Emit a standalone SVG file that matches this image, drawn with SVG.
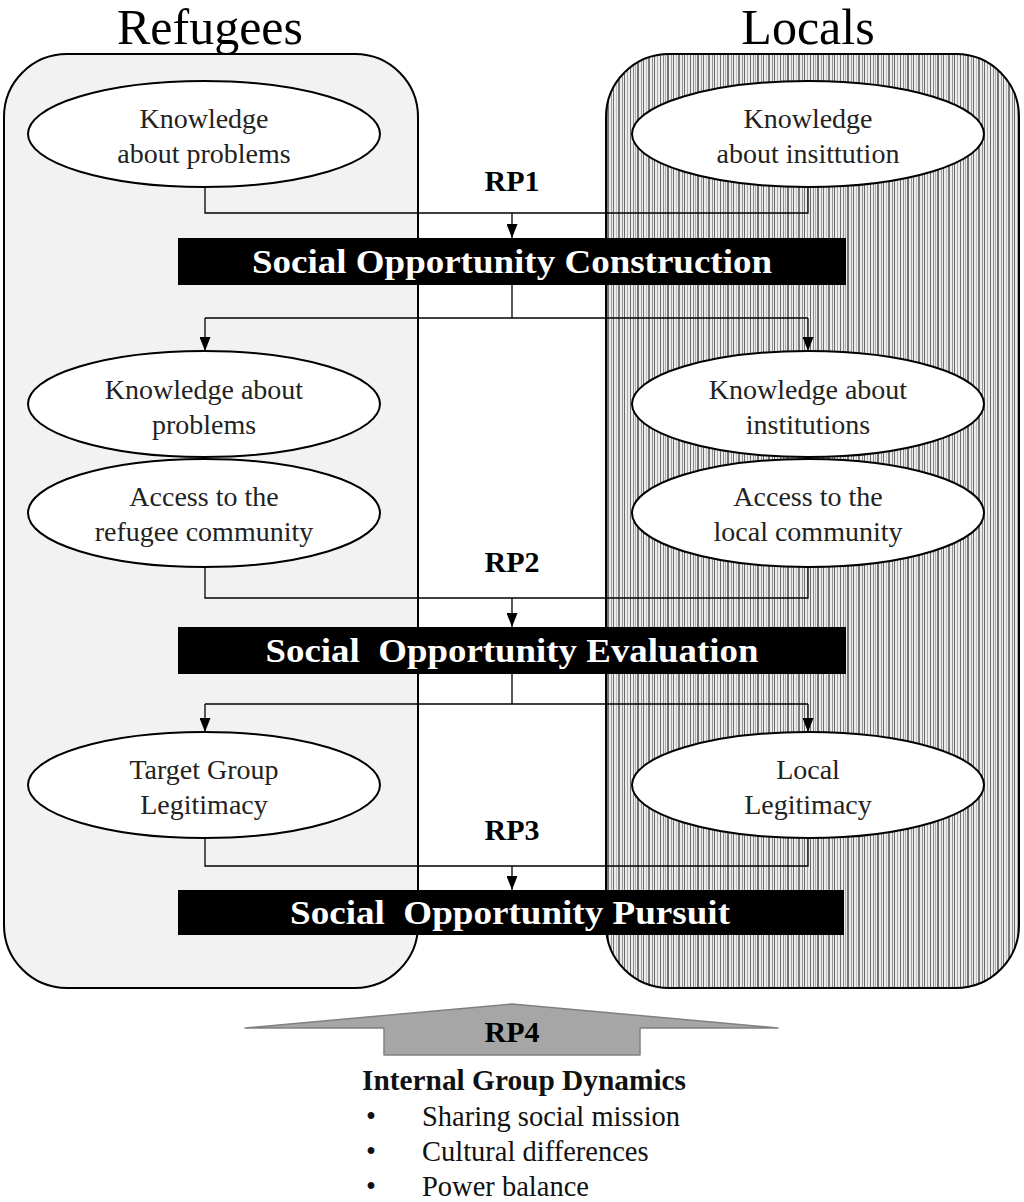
<svg xmlns="http://www.w3.org/2000/svg" width="1024" height="1202" viewBox="0 0 1024 1202">
  <defs>
    <!-- irregular vertical stripes for the Locals panel -->
    <pattern id="stripes" x="0" y="0" width="30" height="10" patternUnits="userSpaceOnUse">
      <rect x="0" y="0" width="30" height="10" fill="#ececec"/>
      <rect x="0" y="0" width="1" height="10" fill="#6a6a6a"/>
      <rect x="3" y="0" width="1" height="10" fill="#8a8a8a"/>
      <rect x="5" y="0" width="1" height="10" fill="#b0b0b0"/>
      <rect x="7" y="0" width="2" height="10" fill="#747474"/>
      <rect x="11" y="0" width="1" height="10" fill="#9c9c9c"/>
      <rect x="13" y="0" width="1" height="10" fill="#6e6e6e"/>
      <rect x="16" y="0" width="1" height="10" fill="#c0c0c0"/>
      <rect x="18" y="0" width="2" height="10" fill="#7c7c7c"/>
      <rect x="22" y="0" width="1" height="10" fill="#929292"/>
      <rect x="24" y="0" width="1" height="10" fill="#6a6a6a"/>
      <rect x="27" y="0" width="1" height="10" fill="#a8a8a8"/>
    </pattern>
    <marker id="arrow" viewBox="0 0 14 11" refX="14" refY="5.5" markerWidth="14" markerHeight="11" markerUnits="userSpaceOnUse" orient="auto">
      <path d="M0,0 L14,5.5 L0,11 Z" fill="#000"/>
    </marker>
  </defs>
  <style>
    .panel { stroke: #000; stroke-width: 2; }
    .title { font-family: "Liberation Serif", "Times New Roman", serif; font-size: 50px; fill: #000; text-anchor: middle; }
    .node ellipse { fill: #fff; stroke: #000; stroke-width: 2; }
    .node text { font-family: "Liberation Serif", "Times New Roman", serif; font-size: 28px; fill: #222; text-anchor: middle; }
    .bar rect { fill: #000; }
    .bar text { font-family: "Liberation Serif", "Times New Roman", serif; font-weight: bold; font-size: 34px; fill: #fff; text-anchor: middle; }
    .rp { font-family: "Liberation Serif", "Times New Roman", serif; font-weight: bold; font-size: 30px; fill: #000; text-anchor: middle; }
    .conn { fill: none; stroke: #000; stroke-width: 1.3; }
    .list { font-family: "Liberation Serif", "Times New Roman", serif; font-size: 28.5px; fill: #111; }
  </style>

  <rect width="1024" height="1202" fill="#fff"/>

  <!-- group panels -->
  <g id="panel-refugees">
    <rect class="panel" x="4" y="54" width="414" height="934" rx="63" ry="63" fill="#f2f2f2"/>
    <text class="title" x="210" y="44">Refugees</text>
  </g>
  <g id="panel-locals">
    <rect class="panel" x="606" y="54" width="413" height="934" rx="63" ry="63" fill="url(#stripes)"/>
    <text class="title" x="808" y="44">Locals</text>
  </g>

  <!-- connectors -->
  <g id="connectors">
    <path class="conn" d="M205,187 V213 H808 V187"/>
    <path class="conn" d="M512,213 V238" marker-end="url(#arrow)"/>

    <path class="conn" d="M512,285 V318"/>
    <path class="conn" d="M205,318 H808"/>
    <path class="conn" d="M205,318 V351" marker-end="url(#arrow)"/>
    <path class="conn" d="M808,318 V351" marker-end="url(#arrow)"/>

    <path class="conn" d="M205,567 V598 H808 V567"/>
    <path class="conn" d="M512,598 V627" marker-end="url(#arrow)"/>

    <path class="conn" d="M512,674 V704"/>
    <path class="conn" d="M205,704 H808"/>
    <path class="conn" d="M205,704 V732" marker-end="url(#arrow)"/>
    <path class="conn" d="M808,704 V732" marker-end="url(#arrow)"/>

    <path class="conn" d="M205,838 V866 H808 V838"/>
    <path class="conn" d="M512,866 V890" marker-end="url(#arrow)"/>
  </g>

  <!-- first row -->
  <g id="ref-knowledge-1" class="node">
    <ellipse cx="204" cy="134" rx="176" ry="53"/>
    <text x="204" y="128">Knowledge</text>
    <text x="204" y="163">about problems</text>
  </g>
  <g id="loc-knowledge-1" class="node">
    <ellipse cx="808" cy="134" rx="176" ry="53"/>
    <text x="808" y="128">Knowledge</text>
    <text x="808" y="163">about insittution</text>
  </g>

  <text class="rp" x="512" y="191">RP1</text>

  <g id="bar-construction" class="bar">
    <rect x="178" y="238" width="668" height="47"/>
    <text x="512" y="273" textLength="520" lengthAdjust="spacingAndGlyphs">Social Opportunity Construction</text>
  </g>

  <!-- second row -->
  <g id="ref-knowledge-2" class="node">
    <ellipse cx="204" cy="404" rx="176" ry="53"/>
    <text x="204" y="399">Knowledge about</text>
    <text x="204" y="434">problems</text>
  </g>
  <g id="ref-access" class="node">
    <ellipse cx="204" cy="513" rx="176" ry="54"/>
    <text x="204" y="506">Access to the</text>
    <text x="204" y="541">refugee community</text>
  </g>
  <g id="loc-knowledge-2" class="node">
    <ellipse cx="808" cy="404" rx="176" ry="53"/>
    <text x="808" y="399">Knowledge about</text>
    <text x="808" y="434">institutions</text>
  </g>
  <g id="loc-access" class="node">
    <ellipse cx="808" cy="513" rx="176" ry="54"/>
    <text x="808" y="506">Access to the</text>
    <text x="808" y="541">local community</text>
  </g>

  <text class="rp" x="512" y="572">RP2</text>

  <g id="bar-evaluation" class="bar">
    <rect x="178" y="627" width="668" height="47"/>
    <text x="512" y="662" textLength="493" lengthAdjust="spacingAndGlyphs" xml:space="preserve">Social  Opportunity Evaluation</text>
  </g>

  <!-- third row -->
  <g id="ref-legitimacy" class="node">
    <ellipse cx="204" cy="785" rx="176" ry="53"/>
    <text x="204" y="779">Target Group</text>
    <text x="204" y="814">Legitimacy</text>
  </g>
  <g id="loc-legitimacy" class="node">
    <ellipse cx="808" cy="785" rx="176" ry="53"/>
    <text x="808" y="779">Local</text>
    <text x="808" y="814">Legitimacy</text>
  </g>

  <text class="rp" x="512" y="840">RP3</text>

  <g id="bar-pursuit" class="bar">
    <rect x="178" y="890" width="666" height="45"/>
    <text x="510" y="924" textLength="440" lengthAdjust="spacingAndGlyphs" xml:space="preserve">Social  Opportunity Pursuit</text>
  </g>

  <!-- RP4 upward arrow and group dynamics list -->
  <g id="rp4">
    <path d="M245,1028 L512,1004 L778,1028 L640,1028 L640,1055 L384,1055 L384,1028 Z" fill="#a6a6a6" stroke="#808080" stroke-width="1.5" stroke-linejoin="round"/>
    <text class="rp" x="512" y="1042">RP4</text>
  </g>
  <g id="group-dynamics">
    <text class="list" x="362" y="1090" font-weight="bold" font-size="25" textLength="324" lengthAdjust="spacingAndGlyphs">Internal Group Dynamics</text>
    <text class="list" x="366" y="1126">•</text>
    <text class="list" x="422" y="1126">Sharing social mission</text>
    <text class="list" x="366" y="1161">•</text>
    <text class="list" x="422" y="1161">Cultural differences</text>
    <text class="list" x="366" y="1196">•</text>
    <text class="list" x="422" y="1196">Power balance</text>
  </g>
</svg>
